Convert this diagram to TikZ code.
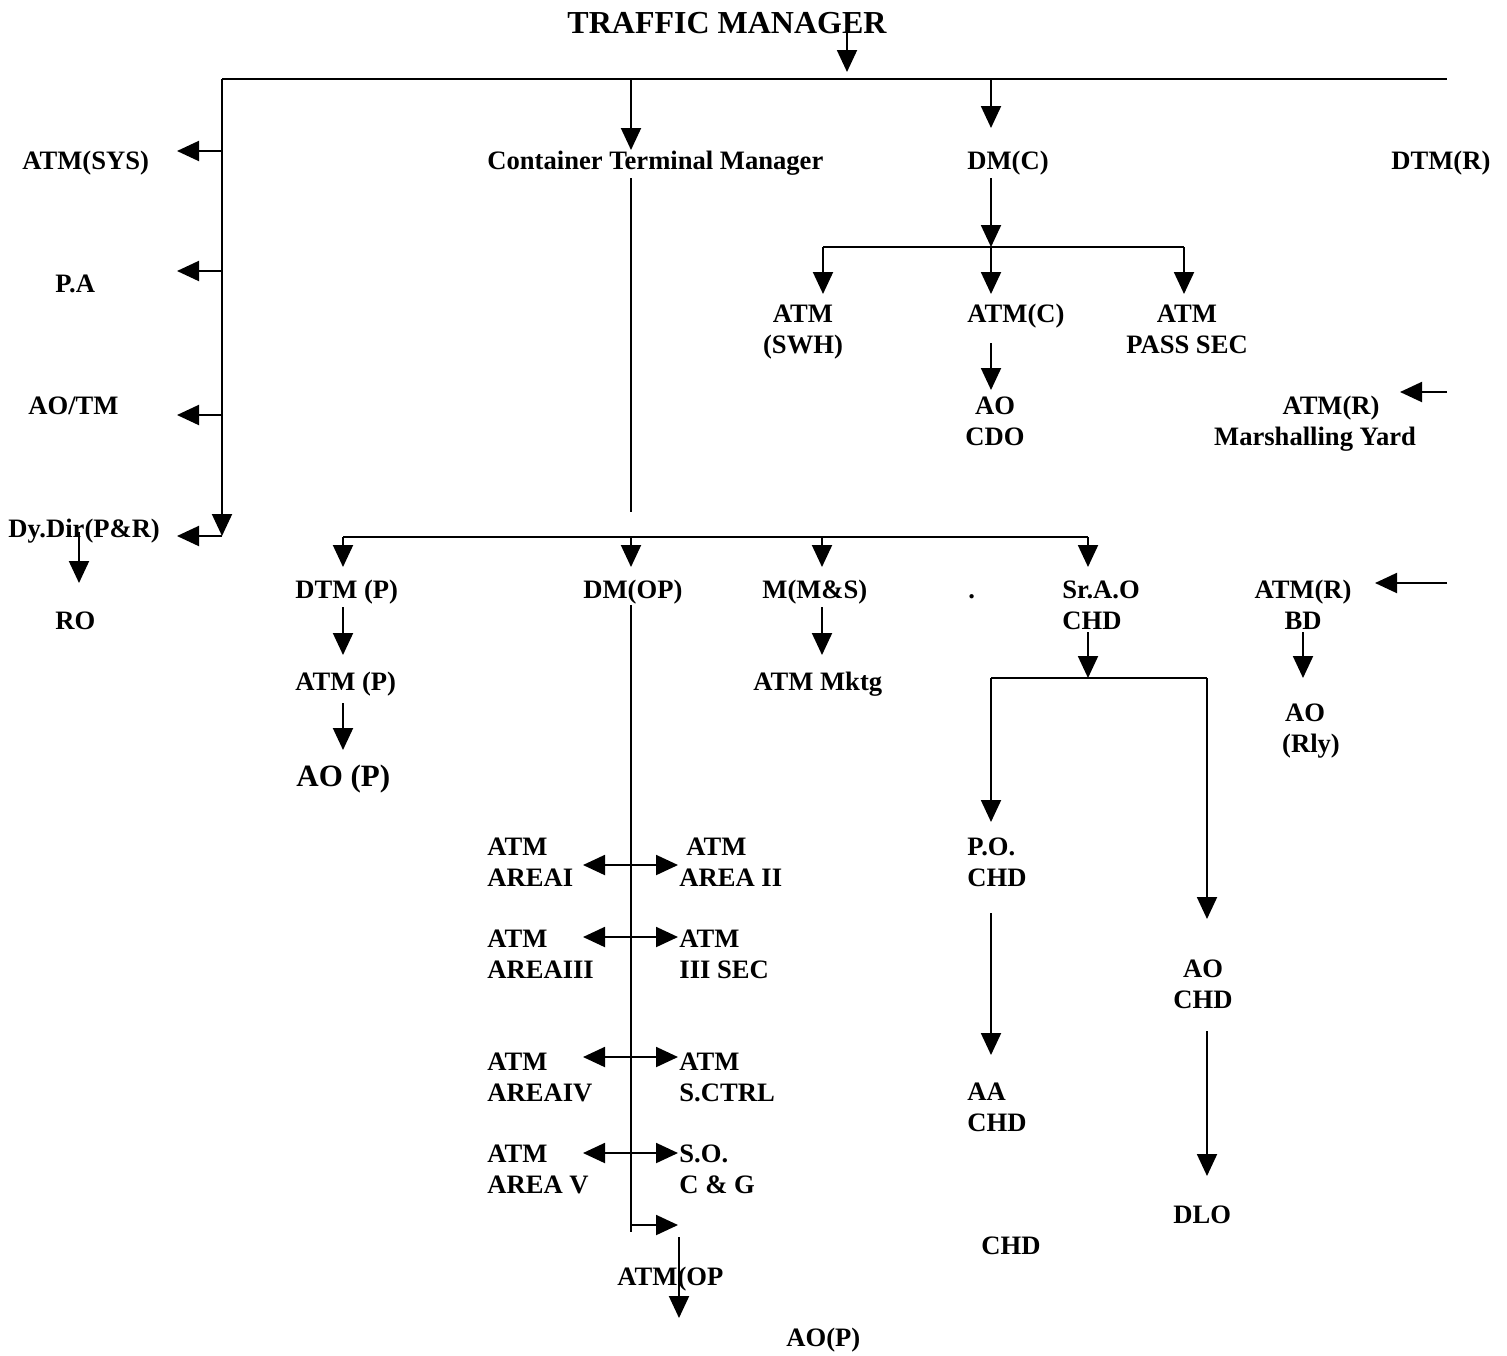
\documentclass[tikz,border=0pt]{standalone}
\usepackage{fontspec}
\setmainfont{Liberation Serif}
\usetikzlibrary{arrows.meta}
\tikzset{
  lbl/.style={font=\fontsize{13.3pt}{15.5pt}\selectfont\bfseries, inner sep=0pt, anchor=base west, align=left},
  lblc/.style={font=\fontsize{13.3pt}{15.5pt}\selectfont\bfseries, inner sep=0pt, anchor=base, align=center},
  conn/.style={line width=1pt},
  arr/.style={line width=1pt, -{Triangle[length=11pt,width=10pt]}},
  darr/.style={line width=1pt, {Triangle[length=11pt,width=10pt]}-{Triangle[length=11pt,width=10pt]}}
}
\begin{document}
\begin{tikzpicture}[x=0.5pt,y=-0.5pt]
\useasboundingbox (0,0) rectangle (1507,1355);
% ---------- nodes (two-line nodes are placed by the baseline of their last line) ----------
\node[lblc, font=\fontsize{16pt}{19pt}\selectfont\bfseries] (tm) at (727,33) {TRAFFIC MANAGER};
\node[lbl] (sys) at (22,169) {ATM(SYS)};
\node[lbl] (pa) at (55,292) {P.A};
\node[lbl] (aotm) at (28,414) {AO/TM};
\node[lbl] (dydir) at (8,537) {Dy.Dir(P\&R)};
\node[lbl] (ro) at (55,629) {RO};
\node[lbl] (ctm) at (487,169) {Container Terminal Manager};
\node[lbl] (dmc) at (967,169) {DM(C)};
\node[lbl] (dtmr) at (1391,169) {DTM(R)};
\node[lblc] (swh) at (803,353) {ATM\\(SWH)};
\node[lbl] (atmc) at (967,322) {ATM(C)};
\node[lblc] (pass) at (1187,353) {ATM\\PASS SEC};
\node[lblc] (cdo) at (995,445) {AO\\CDO};
\node[lblc] (marsh) at (1315,445) {\hspace*{16pt}ATM(R)\\Marshalling Yard};
\node[lbl] (dtmp) at (295,598) {DTM (P)};
\node[lbl] (dmop) at (583,598) {DM(OP)};
\node[lbl] (mms) at (762,598) {M(M\&S)};
\node[lbl] (dot) at (968,598) {.};
\node[lbl] (srao) at (1062,629) {Sr.A.O\\CHD};
\node[lblc] (atmrbd) at (1303,629) {ATM(R)\\BD};
\node[lbl] (atmp) at (295,690) {ATM (P)};
\node[lbl] (mktg) at (753,690) {ATM Mktg};
\node[lblc] (aorly) at (1305,752) {AO\\\hspace*{6pt}(Rly)};
\node[lbl, font=\fontsize{15.5pt}{18pt}\selectfont\bfseries] (aop) at (296,786) {AO (P)};
\node[lbl] (a1) at (487,886) {ATM\\AREAI};
\node[lbl] (a2) at (679,886) {\hspace*{3.5pt}ATM\\AREA II};
\node[lbl] (po) at (967,886) {P.O.\\CHD};
\node[lbl] (a3) at (487,978) {ATM\\AREAIII};
\node[lbl] (iiisec) at (679,978) {ATM\\III SEC};
\node[lblc] (aochd) at (1203,1008) {AO\\CHD};
\node[lbl] (a4) at (487,1101) {ATM\\AREAIV};
\node[lbl] (sctrl) at (679,1101) {ATM\\S.CTRL};
\node[lbl] (aa) at (967,1131) {AA\\CHD};
\node[lbl] (a5) at (487,1193) {ATM\\AREA V};
\node[lbl] (so) at (679,1193) {S.O.\\C \& G};
\node[lbl] (dlo) at (1173,1223) {DLO};
\node[lbl] (chd) at (981,1254) {CHD};
\node[lbl] (atmop) at (617,1285) {ATM(OP};
\node[lbl] (aop2) at (786,1346) {AO(P)};
% ---------- coordinates ----------
\coordinate (t1) at (847,30);   \coordinate (t2) at (847,72);
\coordinate (bl) at (222,79);   \coordinate (br) at (1447,79);
\coordinate (lt) at (222,536);
\foreach \n/\y in {b1/151,b2/271,b3/415,b4/536}{
  \coordinate (\n r) at (222,\y); \coordinate (\n l) at (177,\y);}
\coordinate (ro1) at (79,532);  \coordinate (ro2) at (79,583);
\coordinate (c1) at (631,79);   \coordinate (c2) at (631,150);
\coordinate (c3) at (631,178);  \coordinate (c4) at (631,512);
\coordinate (d1) at (991,79);   \coordinate (d2) at (991,128);
\coordinate (d3) at (991,178);  \coordinate (d4) at (991,247);
\coordinate (dl) at (823,247);  \coordinate (dr) at (1184,247);
\coordinate (dl2) at (823,294); \coordinate (dm2) at (991,294); \coordinate (dr2) at (1184,294);
\coordinate (e1) at (991,343);  \coordinate (e2) at (991,390);
\coordinate (r1) at (1447,392); \coordinate (r2) at (1400,392);
\coordinate (r3) at (1447,583); \coordinate (r4) at (1375,583);
\coordinate (gl) at (343,537);  \coordinate (gr) at (1088,537);
\foreach \n/\x in {g1/343,g2/631,g3/822,g4/1088}{
  \coordinate (\n a) at (\x,537); \coordinate (\n b) at (\x,567);}
\coordinate (p1) at (343,607);  \coordinate (p2) at (343,655);
\coordinate (p3) at (343,703);  \coordinate (p4) at (343,750);
\coordinate (m1) at (822,607);  \coordinate (m2) at (822,655);
\coordinate (s1) at (1088,632); \coordinate (s2) at (1088,678);
\coordinate (sl) at (991,678);  \coordinate (sr) at (1207,678);
\coordinate (sl2) at (991,822); \coordinate (sr2) at (1207,919);
\coordinate (q1) at (991,913);  \coordinate (q2) at (991,1055);
\coordinate (q3) at (1207,1031); \coordinate (q4) at (1207,1176);
\coordinate (k1) at (1303,632); \coordinate (k2) at (1303,678);
\coordinate (v1) at (631,605);  \coordinate (v2) at (631,1232);
\foreach \n/\y in {h1/865,h2/937,h3/1057,h4/1153}{
  \coordinate (\n l) at (583,\y); \coordinate (\n r) at (678,\y);}
\coordinate (w1) at (631,1225); \coordinate (w2) at (678,1225);
\coordinate (z1) at (679,1237); \coordinate (z2) at (679,1318);
% ---------- connectors ----------
\draw[arr] (t1) -- (t2);
\draw[conn] (bl) -- (br);
\draw[arr] (bl) -- (lt);
\foreach \n in {b1,b2,b3,b4}{\draw[arr] (\n r) -- (\n l);}
\draw[arr] (ro1) -- (ro2);
\draw[arr] (c1) -- (c2);
\draw[conn] (c3) -- (c4);
\draw[arr] (d1) -- (d2);
\draw[arr] (d3) -- (d4);
\draw[conn] (dl) -- (dr);
\draw[arr] (dl) -- (dl2);
\draw[arr] (d4) -- (dm2);
\draw[arr] (dr) -- (dr2);
\draw[arr] (e1) -- (e2);
\draw[arr] (r1) -- (r2);
\draw[arr] (r3) -- (r4);
\draw[conn] (gl) -- (gr);
\foreach \n in {g1,g2,g3,g4}{\draw[arr] (\n a) -- (\n b);}
\draw[arr] (p1) -- (p2);
\draw[arr] (p3) -- (p4);
\draw[arr] (m1) -- (m2);
\draw[arr] (s1) -- (s2);
\draw[conn] (sl) -- (sr);
\draw[arr] (sl) -- (sl2);
\draw[arr] (sr) -- (sr2);
\draw[arr] (q1) -- (q2);
\draw[arr] (q3) -- (q4);
\draw[arr] (k1) -- (k2);
\draw[conn] (v1) -- (v2);
\foreach \n in {h1,h2,h3,h4}{\draw[darr] (\n l) -- (\n r);}
\draw[arr] (w1) -- (w2);
\draw[arr] (z1) -- (z2);
\end{tikzpicture}
\end{document}
